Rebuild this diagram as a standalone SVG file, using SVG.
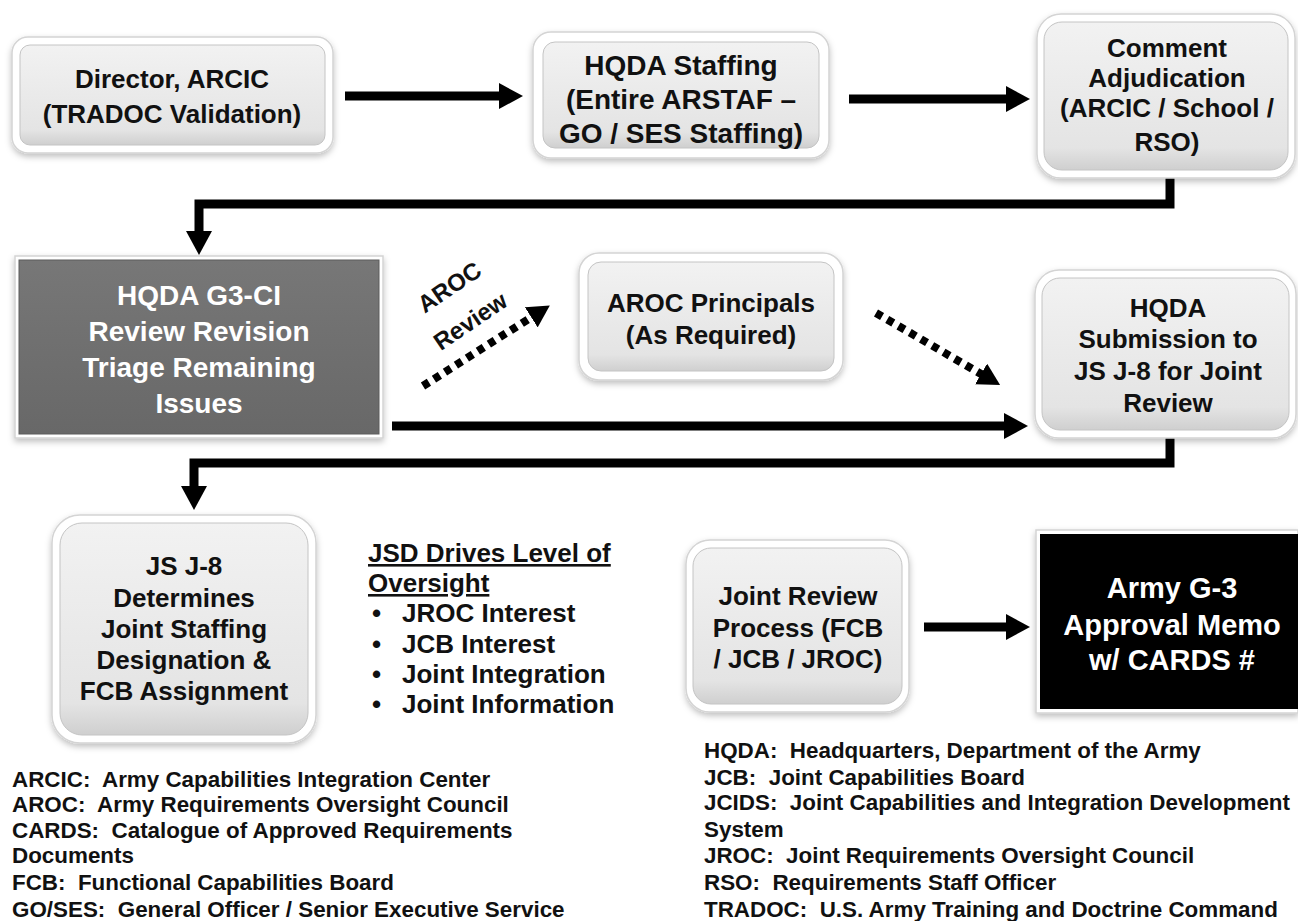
<svg xmlns="http://www.w3.org/2000/svg" width="1298" height="921" viewBox="0 0 1298 921">
<style>
text{font-family:"Liberation Sans",Arial,sans-serif;font-weight:bold;}
.lbl{font-size:26px;fill:#111;text-anchor:middle;}
.lbl28{font-size:28px;fill:#111;text-anchor:middle;}
.wl{font-size:28px;fill:#fff;text-anchor:middle;}
.bl{font-size:29px;fill:#fff;text-anchor:middle;}
.leg{font-size:22.4px;fill:#111;}
.jsd{font-size:26px;fill:#111;}
.rot{font-size:24px;fill:#111;text-anchor:middle;}
.outer{fill:#fff;stroke:#d4d4d4;stroke-width:1.5;filter:url(#sh);}
.inner{fill:url(#lg);stroke:#c4c4c4;stroke-width:1;}
.conn{fill:none;stroke:#000;stroke-width:9;}
.dot{fill:none;stroke:#000;stroke-width:8;stroke-dasharray:7 6;}
</style>
<defs>
<linearGradient id="lg" x1="0" y1="0" x2="0" y2="1">
<stop offset="0" stop-color="#f2f2f2"/><stop offset="0.85" stop-color="#e4e4e4"/><stop offset="1" stop-color="#cfcfcf"/>
</linearGradient>
<linearGradient id="dg" x1="0" y1="0" x2="0" y2="1">
<stop offset="0" stop-color="#777"/><stop offset="1" stop-color="#686868"/>
</linearGradient>
<filter id="sh" x="-10%" y="-10%" width="120%" height="130%">
<feDropShadow dx="0" dy="3" stdDeviation="3" flood-color="#000" flood-opacity="0.25"/>
</filter>
<marker id="ah" viewBox="0 0 24 26" refX="12" refY="13" markerWidth="24" markerHeight="26" markerUnits="userSpaceOnUse" orient="auto">
<path d="M0,0 L24,13 L0,26 Z" fill="#000"/>
</marker>
<marker id="ahd" viewBox="0 0 22 24" refX="8" refY="12" markerWidth="22" markerHeight="24" markerUnits="userSpaceOnUse" orient="auto">
<path d="M0,0 L22,12 L0,24 Z" fill="#000"/>
</marker>
</defs>
<rect width="1298" height="921" fill="#fff"/>

<g id="connectors">
<line class="conn" x1="345" y1="96" x2="511" y2="96" marker-end="url(#ah)"/>
<line class="conn" x1="849" y1="99" x2="1018" y2="99" marker-end="url(#ah)"/>
<polyline class="conn" points="1170,178 1170,204 199,204 199,243" marker-end="url(#ah)"/>
<line class="conn" x1="392" y1="426" x2="1016" y2="426" marker-end="url(#ah)"/>
<line class="dot" x1="423" y1="386" x2="538" y2="313" marker-end="url(#ahd)"/>
<line class="dot" x1="876" y1="313" x2="988" y2="378" marker-end="url(#ahd)"/>
<polyline class="conn" points="1170,438 1170,463 194,463 194,498" marker-end="url(#ah)"/>
<line class="conn" x1="924" y1="627" x2="1018" y2="627" marker-end="url(#ah)"/>
<text class="rot" transform="translate(454,294) rotate(-34)">AROC</text>
<text class="rot" transform="translate(475,328) rotate(-34)">Review</text>
</g>

<g id="n-director">
<rect class="outer" x="12" y="37" width="321" height="116" rx="16"/>
<rect class="inner" x="20" y="45" width="305" height="100" rx="10"/>
<text class="lbl" x="172" y="88">Director, ARCIC</text>
<text class="lbl" x="172" y="123">(TRADOC Validation)</text>
</g>

<g id="n-hqda-staffing">
<rect class="outer" x="533" y="32" width="296" height="126" rx="18"/>
<rect class="inner" x="543" y="42" width="276" height="106" rx="12"/>
<text class="lbl28" x="681" y="75">HQDA Staffing</text>
<text class="lbl28" x="681" y="109">(Entire ARSTAF –</text>
<text class="lbl28" x="681" y="143">GO / SES Staffing)</text>
</g>

<g id="n-comment">
<rect class="outer" x="1037" y="14" width="258" height="164" rx="24"/>
<rect class="inner" x="1044" y="22" width="244" height="148" rx="18"/>
<text class="lbl" x="1167" y="57">Comment</text>
<text class="lbl" x="1167" y="87">Adjudication</text>
<text class="lbl" x="1167" y="117">(ARCIC / School /</text>
<text class="lbl" x="1167" y="151">RSO)</text>
</g>

<g id="n-g3ci">
<rect x="15" y="256" width="368" height="182" fill="#fff" stroke="#d4d4d4" stroke-width="1.5" filter="url(#sh)"/>
<rect x="19" y="260" width="360" height="174" fill="url(#dg)" stroke="#5c5c5c" stroke-width="1"/>
<text class="wl" x="199" y="305">HQDA  G3-CI</text>
<text class="wl" x="199" y="341">Review Revision</text>
<text class="wl" x="199" y="377">Triage Remaining</text>
<text class="wl" x="199" y="413">Issues</text>
</g>

<g id="n-aroc">
<rect class="outer" x="579" y="253" width="264" height="127" rx="20"/>
<rect class="inner" x="588" y="262" width="246" height="109" rx="13"/>
<text class="lbl" x="711" y="312">AROC Principals</text>
<text class="lbl" x="711" y="344">(As Required)</text>
</g>

<g id="n-submission">
<rect class="outer" x="1035" y="270" width="261" height="168" rx="24"/>
<rect class="inner" x="1042" y="278" width="247" height="152" rx="18"/>
<text class="lbl" x="1168" y="317">HQDA</text>
<text class="lbl" x="1168" y="348">Submission to</text>
<text class="lbl" x="1168" y="380">JS J-8 for Joint</text>
<text class="lbl" x="1168" y="412">Review</text>
</g>

<g id="n-jsj8">
<rect class="outer" x="52" y="515" width="264" height="228" rx="28"/>
<rect class="inner" x="60" y="523" width="248" height="212" rx="22"/>
<text class="lbl" x="184" y="575">JS J-8</text>
<text class="lbl" x="184" y="607">Determines</text>
<text class="lbl" x="184" y="638">Joint Staffing</text>
<text class="lbl" x="184" y="669">Designation &amp;</text>
<text class="lbl" x="184" y="700">FCB Assignment</text>
</g>

<g id="jsd-note">
<text class="jsd" x="368" y="562" text-decoration="underline">JSD Drives Level of</text>
<text class="jsd" x="368" y="592" text-decoration="underline">Oversight</text>
<text class="jsd" x="372" y="622">•</text><text class="jsd" x="402" y="622">JROC Interest</text>
<text class="jsd" x="372" y="653">•</text><text class="jsd" x="402" y="653">JCB Interest</text>
<text class="jsd" x="372" y="683">•</text><text class="jsd" x="402" y="683">Joint Integration</text>
<text class="jsd" x="372" y="713">•</text><text class="jsd" x="402" y="713">Joint Information</text>
</g>

<g id="n-joint-review">
<rect class="outer" x="686" y="540" width="223" height="172" rx="24"/>
<rect class="inner" x="693" y="548" width="209" height="156" rx="18"/>
<text class="lbl" x="798" y="605">Joint Review</text>
<text class="lbl" x="798" y="637">Process (FCB</text>
<text class="lbl" x="798" y="668">/ JCB / JROC)</text>
</g>

<g id="n-army-g3">
<rect x="1036" y="530" width="262" height="183" fill="#fff" stroke="#d4d4d4" stroke-width="1.5" filter="url(#sh)"/>
<rect x="1040" y="534" width="258" height="175" fill="#000"/>
<text class="bl" x="1172" y="598">Army G-3</text>
<text class="bl" x="1172" y="635">Approval Memo</text>
<text class="bl" x="1172" y="670">w/ CARDS #</text>
</g>

<g id="legend-left">
<text class="leg" x="12" y="787">ARCIC:&#160; Army Capabilities Integration Center</text>
<text class="leg" x="12" y="812">AROC:&#160; Army Requirements Oversight Council</text>
<text class="leg" x="12" y="838">CARDS:&#160; Catalogue of Approved Requirements</text>
<text class="leg" x="12" y="863">Documents</text>
<text class="leg" x="12" y="890">FCB:&#160; Functional Capabilities Board</text>
<text class="leg" x="12" y="917">GO/SES:&#160; General Officer / Senior Executive Service</text>
</g>

<g id="legend-right">
<text class="leg" x="704" y="758">HQDA:&#160; Headquarters, Department of the Army</text>
<text class="leg" x="704" y="785">JCB:&#160; Joint Capabilities Board</text>
<text class="leg" x="704" y="810">JCIDS:&#160; Joint Capabilities and Integration Development</text>
<text class="leg" x="704" y="837">System</text>
<text class="leg" x="704" y="863">JROC:&#160; Joint Requirements Oversight Council</text>
<text class="leg" x="704" y="890">RSO:&#160; Requirements Staff Officer</text>
<text class="leg" x="704" y="917">TRADOC:&#160; U.S. Army Training and Doctrine Command</text>
</g>
</svg>
